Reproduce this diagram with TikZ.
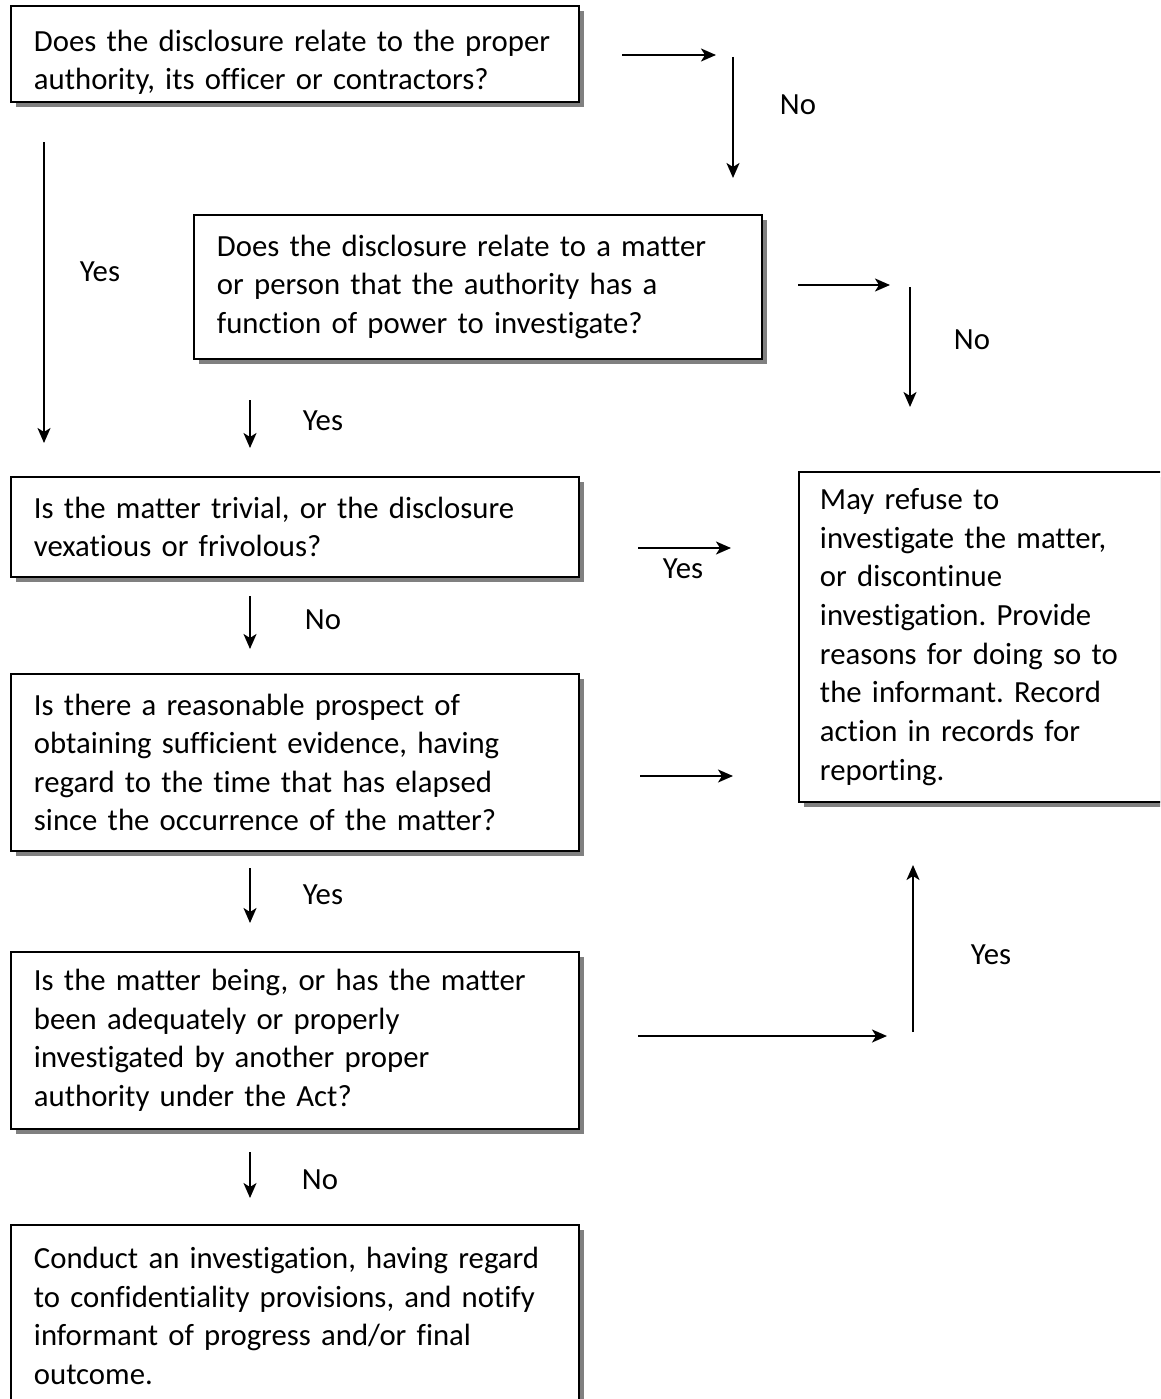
\documentclass[tikz,border=0pt]{standalone}
\usepackage{fontspec}
\setmainfont{Carlito}[Ligatures={NoCommon}]
\usepackage{tikz}
\usetikzlibrary{arrows.meta,shadows}
\definecolor{fcline}{HTML}{000000}
\definecolor{fcshade}{HTML}{808080}
\newcommand{\fcfont}{\fontsize{17.5pt}{22pt}\selectfont\frenchspacing}
\tikzset{
  qbox/.style    = {draw=fcline, fill=white, line width=1.1pt, align=left,
                    anchor=north west, font=\fcfont, inner xsep=0.46cm,
                    inner ysep=0pt, text width=10.44cm,
                    drop shadow={shadow xshift=0.1cm, shadow yshift=-0.1cm,
                                 fill=fcshade, opacity=1}},
  endbox/.style  = {qbox, text width=7.1cm, inner xsep=0.42cm},
  flow/.style    = {-{Stealth[length=0.3cm,width=0.26cm,inset=0.08cm]},
                    draw=fcline, line width=1.1pt},
  lbl/.style     = {font=\fcfont, inner sep=1pt},
}
\begin{document}
\begin{tikzpicture}[x=0.02cm,y=-0.02cm]

  \path[use as bounding box, clip] (0,0) rectangle (1160,1399);

  % question boxes down the left side
  \node[qbox, minimum height=1.92cm] (qauth) at (10,5)
    {\rule{0pt}{0.76cm}Does the disclosure relate to the proper\\
     authority, its officer or contractors?};
  \node[qbox, minimum height=2.88cm] (qpower) at (193,214)
    {Does the disclosure relate to a matter\\
     or person that the authority has a\\
     function of power to investigate?};
  \node[qbox, minimum height=2.0cm] (qtrivial) at (10,476)
    {Is the matter trivial, or the disclosure\\
     vexatious or frivolous?};
  \node[qbox, minimum height=3.54cm] (qprospect) at (10,673)
    {Is there a reasonable prospect of\\
     obtaining sufficient evidence, having\\
     regard to the time that has elapsed\\
     since the occurrence of the matter?};
  \node[qbox, minimum height=3.54cm] (qother) at (10,951)
    {Is the matter being, or has the matter\\
     been adequately or properly\\
     investigated by another proper\\
     authority under the Act?};
  \node[qbox, minimum height=3.64cm] (conduct) at (10,1224)
    {Conduct an investigation, having regard\\
     to confidentiality provisions, and notify\\
     informant of progress and/or final\\
     outcome.};

  % outcome box on the right
  \node[endbox, minimum height=6.6cm] (refuse) at (798,471)
    {May refuse to\\
     investigate the matter,\\
     or discontinue\\
     investigation. Provide\\
     reasons for doing so to\\
     the informant. Record\\
     action in records for\\
     reporting.};

  % arrow end points
  \coordinate (n1a) at (622,55);   \coordinate (n1b) at (716,55);
  \coordinate (n1c) at (733,57);   \coordinate (n1d) at (733,178);
  \coordinate (y1a) at (44,142);   \coordinate (y1b) at (44,443);
  \coordinate (n2a) at (798,285);  \coordinate (n2b) at (890,285);
  \coordinate (n2c) at (910,287);  \coordinate (n2d) at (910,407);
  \coordinate (y2a) at (250,400);  \coordinate (y2b) at (250,448);
  \coordinate (y3a) at (638,548);  \coordinate (y3b) at (731,548);
  \coordinate (n3a) at (250,596);  \coordinate (n3b) at (250,649);
  \coordinate (n4a) at (640,776);  \coordinate (n4b) at (733,776);
  \coordinate (y4a) at (250,868);  \coordinate (y4b) at (250,923);
  \coordinate (y5a) at (638,1036); \coordinate (y5b) at (887,1036);
  \coordinate (y5c) at (913,1032); \coordinate (y5d) at (913,865);
  \coordinate (n5a) at (250,1152); \coordinate (n5b) at (250,1198);

  \draw[flow] (n1a) -- (n1b);
  \draw[flow] (n1c) -- (n1d);
  \draw[flow] (y1a) -- (y1b);
  \draw[flow] (n2a) -- (n2b);
  \draw[flow] (n2c) -- (n2d);
  \draw[flow] (y2a) -- (y2b);
  \draw[flow] (y3a) -- (y3b);
  \draw[flow] (n3a) -- (n3b);
  \draw[flow] (n4a) -- (n4b);
  \draw[flow] (y4a) -- (y4b);
  \draw[flow] (y5a) -- (y5b);
  \draw[flow] (y5c) -- (y5d);
  \draw[flow] (n5a) -- (n5b);

  % labels
  \node[lbl] (lno1)  at (798,105)  {No};
  \node[lbl] (lyes1) at (100,272)  {Yes};
  \node[lbl] (lno2)  at (972,340)  {No};
  \node[lbl] (lyes2) at (323,421)  {Yes};
  \node[lbl] (lyes3) at (683,569)  {Yes};
  \node[lbl] (lno3)  at (323,620)  {No};
  \node[lbl] (lyes4) at (323,895)  {Yes};
  \node[lbl] (lyes5) at (991,955)  {Yes};
  \node[lbl] (lno4)  at (320,1180) {No};

\end{tikzpicture}
\end{document}
